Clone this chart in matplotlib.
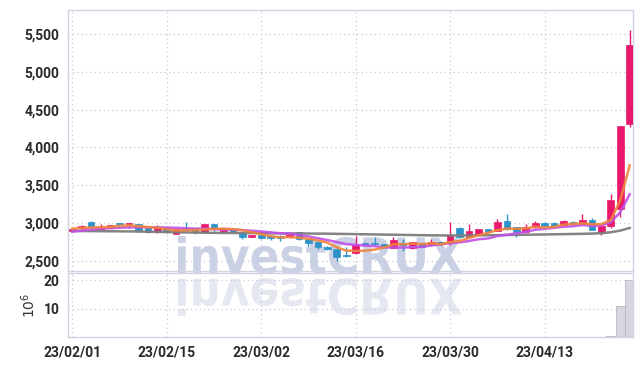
import matplotlib
matplotlib.use("Agg")
import matplotlib.pyplot as plt
from matplotlib.textpath import TextPath
from matplotlib.patches import PathPatch
from matplotlib.font_manager import FontProperties
from matplotlib.transforms import Affine2D, IdentityTransform

plt.rcParams['font.family'] = ['Liberation Sans Narrow', 'Roboto', 'DejaVu Sans']

# trading days 23/02/01 .. 23/04/26
tick_pos = [0, 10, 20, 30, 40, 50]
tick_labels = ["23/02/01", "23/02/15", "23/03/02", "23/03/16", "23/03/30", "23/04/13"]

opens = [2890, 2930, 3017, 2917, 2938, 2995, 2983, 2987, 2938, 2877,
         2938, 2855, 2920, 2920, 2885, 2983, 2885, 2920, 2872, 2819,
         2841, 2830, 2832, 2810, 2877, 2784, 2752, 2686, 2655, 2575,
         2598, 2731, 2738, 2722, 2673, 2739, 2665, 2731, 2708, 2752,
         2744, 2938, 2819, 2841, 2917, 2894, 3027, 2943, 2877, 2943,
         3004, 3004, 2973, 3017, 2983, 3040, 2870, 2960, 3180, 4312]
highs = [2925, 2975, 3022, 2987, 2978, 3002, 3000, 2992, 2942, 2973,
         2942, 2925, 3017, 2925, 2990, 2988, 2935, 2925, 2878, 2845,
         2846, 2836, 2835, 2855, 2882, 2790, 2757, 2690, 2660, 2686,
         2832, 2752, 2819, 2728, 2810, 2790, 2750, 2736, 2790, 2757,
         3017, 2942, 2983, 2922, 2922, 3053, 3119, 2948, 2983, 3030,
         3009, 3009, 3035, 3022, 3115, 3060, 2990, 3380, 4290, 5557]
lows = [2880, 2895, 2945, 2910, 2935, 2980, 2930, 2895, 2870, 2872,
        2863, 2850, 2900, 2850, 2880, 2894, 2880, 2870, 2784, 2812,
        2790, 2775, 2762, 2805, 2775, 2700, 2655, 2645, 2496, 2555,
        2585, 2700, 2710, 2670, 2665, 2629, 2660, 2680, 2690, 2710,
        2708, 2815, 2815, 2836, 2880, 2890, 2912, 2819, 2872, 2938,
        2955, 2955, 2968, 2985, 2978, 2902, 2845, 2938, 3075, 4276]
closes = [2917, 2960, 2951, 2938, 2973, 2987, 2996, 2898, 2877, 2930,
          2885, 2920, 2908, 2885, 2983, 2920, 2930, 2877, 2819, 2841,
          2797, 2800, 2797, 2850, 2784, 2731, 2686, 2651, 2545, 2560,
          2708, 2708, 2720, 2685, 2775, 2708, 2744, 2686, 2744, 2718,
          2841, 2819, 2894, 2917, 2885, 3017, 2917, 2877, 2943, 3004,
          2960, 2960, 3030, 2990, 3040, 2907, 2960, 3305, 4285, 5358]

# volume in millions
volume = [0.05, 0.04, 0.05, 0.04, 0.04, 0.03, 0.04, 0.04, 0.04, 0.03,
          0.04, 0.04, 0.05, 0.04, 0.05, 0.04, 0.03, 0.04, 0.05, 0.03,
          0.04, 0.03, 0.04, 0.04, 0.05, 0.05, 0.05, 0.04, 0.06, 0.05,
          0.06, 0.05, 0.04, 0.04, 0.05, 0.04, 0.04, 0.03, 0.04, 0.03,
          0.06, 0.05, 0.05, 0.04, 0.04, 0.06, 0.06, 0.04, 0.04, 0.04,
          0.04, 0.03, 0.04, 0.03, 0.05, 0.04, 0.04, 0.35, 10.9, 20.3]

ma_short = [2925, 2935, 2942, 2945, 2948, 2962, 2969, 2958, 2946, 2938,
            2917, 2902, 2904, 2906, 2916, 2923, 2925, 2919, 2906, 2877,
            2853, 2826, 2810, 2816, 2805, 2792, 2770, 2740, 2679, 2635,
            2630, 2634, 2648, 2677, 2720, 2720, 2727, 2721, 2731, 2720,
            2747, 2762, 2803, 2838, 2871, 2906, 2926, 2923, 2928, 2952,
            2940, 2949, 2979, 2989, 2996, 2985, 2985, 3040, 3299, 3763]
ma_mid = [2885, 2900, 2915, 2925, 2932, 2938, 2942, 2944, 2944, 2943,
          2940, 2936, 2931, 2926, 2927, 2920, 2914, 2912, 2906, 2897,
          2888, 2876, 2865, 2861, 2841, 2822, 2798, 2775, 2748, 2720,
          2711, 2702, 2694, 2678, 2677, 2675, 2681, 2684, 2704, 2720,
          2733, 2745, 2762, 2785, 2796, 2827, 2844, 2863, 2883, 2911,
          2923, 2937, 2951, 2958, 2974, 2963, 2967, 3010, 3144, 3380]
ma_long = [2895, 2894, 2893, 2892, 2891, 2890, 2889, 2887, 2885, 2883,
           2880, 2878, 2876, 2874, 2872, 2870, 2869, 2868, 2867, 2866,
           2865, 2864, 2863, 2863, 2862, 2861, 2860, 2859, 2857, 2855,
           2853, 2851, 2849, 2847, 2845, 2843, 2841, 2839, 2837, 2836,
           2835, 2835, 2836, 2837, 2838, 2840, 2842, 2843, 2845, 2847,
           2849, 2851, 2853, 2855, 2857, 2860, 2866, 2878, 2900, 2935]

UP = "#e8196c"
DOWN = "#2b93c9"
GRID = "#c8cadf"
SPINE = "#d2d3e2"

fig = plt.figure(figsize=(6.42, 3.66), dpi=100)
ax = fig.add_axes([68 / 642, 1 - 271 / 366, 565 / 642, 261 / 366])
axv = fig.add_axes([68 / 642, 1 - 337 / 366, 565 / 642, 64 / 366], sharex=ax)
for a in (ax, axv):
    a.set_facecolor("none")
    for s in a.spines.values():
        s.set_color(SPINE)
        s.set_linewidth(1.0)
    a.grid(True, color=GRID, linestyle=(0, (1, 2.5)), linewidth=0.9)
    a.set_axisbelow(True)
    a.tick_params(length=0, labelsize=10, colors="#2a2a2a", pad=6)
    for lab in a.get_xticklabels() + a.get_yticklabels():
        lab.set_fontweight("bold")

# watermark "investCRUX" + its reflection, in pixel coordinates
fp = FontProperties(family="DejaVu Sans", weight="bold")
tp = TextPath((0, 0), "investCRUX", prop=fp, size=40)
ext = tp.get_extents()
W, H = 642, 366
x0, x1 = 178, 462
top, base = 236, 274
sx = (x1 - x0) / ext.width
sy = (base - top) / ext.height
main_tr = Affine2D().translate(-ext.x0, -ext.y0).scale(sx, sy).translate(x0, H - base)
fig.add_artist(PathPatch(main_tr.transform_path(tp), facecolor="#cbd1e5",
                         edgecolor="none", transform=IdentityTransform(), zorder=-1))
refl_tr = Affine2D().translate(-ext.x0, -ext.y0).scale(sx, -sy).translate(x0, H - 278)
fig.add_artist(PathPatch(refl_tr.transform_path(tp), facecolor="#e5e8f1",
                         edgecolor="none", transform=IdentityTransform(), zorder=-1))

# candles
idx = list(range(len(closes)))
for i in idx:
    o, h, l, c = opens[i], highs[i], lows[i], closes[i]
    col = UP if c >= o else DOWN
    ax.vlines(i, l, h, color=col, linewidth=1.0, zorder=2)
    body = max(abs(c - o), 8)
    ax.bar(i, body, bottom=min(o, c), width=0.7, color=col, edgecolor=col,
           linewidth=0.5, zorder=3)

ax.plot(idx, ma_long, color="#7d7d7d", linewidth=1.8, zorder=4, alpha=0.95)
ax.plot(idx, ma_mid, color="#c24fe6", linewidth=1.8, zorder=4, alpha=0.9)
ax.plot(idx, ma_short, color="#f0843c", linewidth=1.8, zorder=4, alpha=0.9)

ax.set_ylim(2365, 5820)
ax.set_yticks([2500, 3000, 3500, 4000, 4500, 5000, 5500])
ax.set_yticklabels(["2,500", "3,000", "3,500", "4,000", "4,500", "5,000", "5,500"],
                   fontweight="bold")
ax.set_xlim(-0.45, 59.35)
ax.set_xticks(tick_pos)
ax.tick_params(axis="x", labelbottom=False)

axv.bar(idx, volume, width=0.95, color="#d6d6de", edgecolor="#b9b9c6",
        linewidth=0.6, zorder=3)
axv.set_ylim(0, 22.6)
axv.set_yticks([10, 20])
axv.set_yticklabels(["10", "20"], fontweight="bold")
axv.set_ylabel(r"$10^6$", fontsize=10, color="#333333", labelpad=4)
axv.set_xticks(tick_pos)
axv.set_xticklabels(tick_labels, fontweight="bold")

fig.savefig("out.png", dpi=100)
